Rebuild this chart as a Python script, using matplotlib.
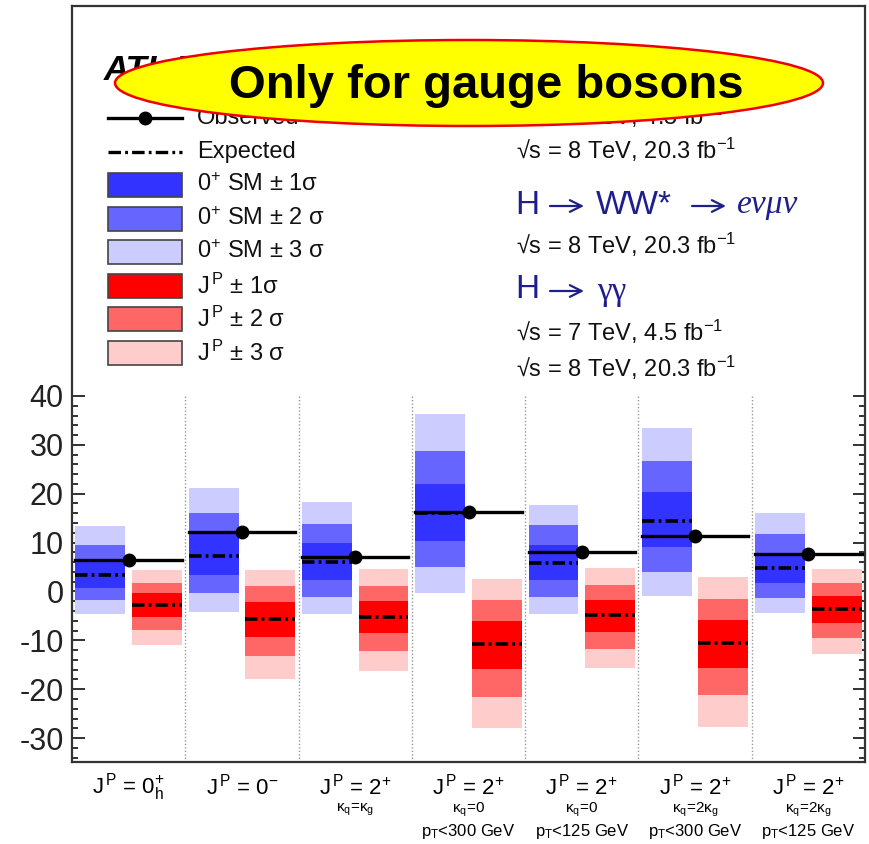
import numpy as np
import matplotlib
matplotlib.use("Agg")
import matplotlib.pyplot as plt
from matplotlib.patches import Ellipse, Rectangle, FancyArrowPatch
from matplotlib.lines import Line2D

plt.rcParams['font.family'] = ['Liberation Sans', 'DejaVu Sans']
plt.rcParams['mathtext.fontset'] = 'custom'
plt.rcParams['mathtext.rm'] = 'Liberation Sans'
plt.rcParams['mathtext.it'] = 'Liberation Sans:italic'
plt.rcParams['mathtext.bf'] = 'Liberation Sans:bold'
plt.rcParams['lines.scale_dashes'] = False

JP = r"J$^{\,\mathrm{P}}$"

# hypotheses tested against 0+ SM
main_labels = [JP + r" = 0$^{+}_{\mathrm{h}}$", JP + r" = 0$^{-}$", JP + r" = 2$^{+}$",
               JP + r" = 2$^{+}$", JP + r" = 2$^{+}$", JP + r" = 2$^{+}$",
               JP + r" = 2$^{+}$"]
sub_labels1 = ["", "", r"κ$_{\mathrm{q}}$=κ$_{\mathrm{g}}$", r"κ$_{\mathrm{q}}$=0",
               r"κ$_{\mathrm{q}}$=0", r"κ$_{\mathrm{q}}$=2κ$_{\mathrm{g}}$",
               r"κ$_{\mathrm{q}}$=2κ$_{\mathrm{g}}$"]
sub_labels2 = ["", "", "", r"p$_{\mathrm{T}}$<300 GeV", r"p$_{\mathrm{T}}$<125 GeV",
               r"p$_{\mathrm{T}}$<300 GeV", r"p$_{\mathrm{T}}$<125 GeV"]

observed = [6.4, 12.2, 7.0, 16.2, 8.0, 11.4, 7.7]

# 0+ SM expectation and bands
sm_exp = [3.4, 7.35, 6.0, 16.1, 5.9, 14.4, 4.8]
sm_1s_lo = [0.7, 3.3, 2.3, 10.4, 2.3, 9.0, 1.7]
sm_1s_hi = [6.5, 11.8, 9.9, 22.0, 9.5, 20.3, 7.9]
sm_2s_lo = [-1.8, -0.3, -1.1, 5.0, -1.1, 3.9, -1.4]
sm_2s_hi = [9.5, 16.0, 13.9, 28.8, 13.6, 26.7, 11.8]
sm_3s_lo = [-4.6, -4.2, -4.6, -0.3, -4.6, -1.0, -4.4]
sm_3s_hi = [13.3, 21.1, 18.4, 36.4, 17.7, 33.5, 16.1]

# alternative J^P expectation and bands
alt_exp = [-2.7, -5.6, -5.2, -10.7, -4.9, -10.6, -3.5]
alt_1s_lo = [-5.2, -9.3, -8.5, -15.8, -8.2, -15.7, -6.4]
alt_1s_hi = [-0.4, -2.2, -1.9, -6.1, -1.8, -5.9, -0.95]
alt_2s_lo = [-7.9, -13.3, -12.2, -21.6, -11.8, -21.2, -9.5]
alt_2s_hi = [1.8, 1.1, 1.1, -1.8, 1.4, -1.6, 1.8]
alt_3s_lo = [-11.0, -18.0, -16.2, -28.0, -15.6, -27.7, -12.9]
alt_3s_hi = [4.3, 4.4, 4.5, 2.6, 4.8, 3.0, 4.6]

blue = ['#3333ff', '#6666ff', '#ccccff']
red = ['#ff0000', '#ff6666', '#ffcccc']

W, H = 869, 844
fig = plt.figure(figsize=(W / 100, H / 100), dpi=100)


def px(x, y):
    return x / W, 1 - y / H


ax = fig.add_axes([72 / W, (H - 762) / H, (865 - 72) / W, (762 - 6) / H])
ax.set_xlim(0, 7)
ax.set_ylim(-34.9, 119.8)

n = len(observed)
x0 = np.arange(n)
bw = 0.44
dash_style = (0, (9, 3, 2, 3))

sm_bands = [(sm_3s_lo, sm_3s_hi), (sm_2s_lo, sm_2s_hi), (sm_1s_lo, sm_1s_hi)]
alt_bands = [(alt_3s_lo, alt_3s_hi), (alt_2s_lo, alt_2s_hi), (alt_1s_lo, alt_1s_hi)]
for i, ((slo, shi), (alo, ahi)) in enumerate(zip(sm_bands, alt_bands)):
    slo, shi, alo, ahi = map(np.array, (slo, shi, alo, ahi))
    ax.bar(x0 + 0.03, shi - slo, bottom=slo, width=bw, align='edge',
           color=blue[2 - i], linewidth=0, zorder=2)
    ax.bar(x0 + 0.53, ahi - alo, bottom=alo, width=bw, align='edge',
           color=red[2 - i], linewidth=0, zorder=2)

for i in range(n):
    ax.plot([i + 0.03, i + 0.47], [sm_exp[i]] * 2, color='black', lw=2.6,
            linestyle=dash_style, zorder=3)
    ax.plot([i + 0.53, i + 0.97], [alt_exp[i]] * 2, color='black', lw=2.6,
            linestyle=dash_style, zorder=3)
    ax.plot([i + 0.03, i + 0.97], [observed[i]] * 2, color='black', lw=2.4, zorder=4)
ax.plot(x0 + 0.5, observed, 'o', color='black', ms=9, zorder=5)

# category separators
for s in range(1, n):
    ax.plot([s, s], [-34.9, 40], color='#999999', lw=1, linestyle=(0, (1, 1.5)), zorder=1)

ax.set_xticks([])
ax.set_yticks(np.arange(-30, 41, 10))
ax.set_yticks(np.arange(-34, 41, 2), minor=True)
ax.tick_params(axis='y', which='both', direction='in', left=True, right=True,
               width=1.3, colors='#222222', labelsize=22, pad=6)
ax.tick_params(axis='y', which='major', length=9)
ax.tick_params(axis='y', which='minor', length=4.5)
ax.set_yticklabels([str(v) for v in range(-30, 41, 10)])
for sp in ax.spines.values():
    sp.set_linewidth(1.6)
    sp.set_color('#333333')

# category labels under the axis
xt = ax.get_xaxis_transform()
for i in range(n):
    ax.text(i + 0.5, -0.033, main_labels[i], transform=xt, ha='center', va='center',
            fontsize=16)
    if sub_labels1[i]:
        ax.text(i + 0.5, -0.063, sub_labels1[i], transform=xt, ha='center', va='center',
                fontsize=11)
    if sub_labels2[i]:
        ax.text(i + 0.5, -0.092, sub_labels2[i], transform=xt, ha='center', va='center',
                fontsize=12)

# legend, drawn by hand
leg_y = [118, 152, 185, 219, 252, 286, 319, 353]
fig.add_artist(Line2D([108 / W, 182 / W], [px(0, leg_y[0])[1]] * 2, color='black', lw=2.4))
fig.add_artist(Line2D([145 / W], [px(0, leg_y[0])[1]], marker='o', color='black', ms=9))
fig.add_artist(Line2D([108 / W, 182 / W], [px(0, leg_y[1])[1]] * 2, color='black', lw=2.4,
                      linestyle=(0, (9, 3, 2, 3))))
legend_text = ["Observed", "Expected",
               r"0$^{+}$ SM $\pm$ 1σ", r"0$^{+}$ SM $\pm$ 2 σ", r"0$^{+}$ SM $\pm$ 3 σ",
               JP + r" $\pm$ 1σ", JP + r" $\pm$ 2 σ", JP + r" $\pm$ 3 σ"]
swatches = blue + red
for k, yy in enumerate(leg_y[2:]):
    fig.add_artist(Rectangle(px(108, yy + 12), 74 / W, 24 / H, transform=fig.transFigure,
                             facecolor=swatches[k], edgecolor='#444444', lw=1.2))
for txt, yy in zip(legend_text, leg_y):
    fig.text(*px(197, yy), txt, ha='left', va='center', fontsize=17, color='#111111')

# experiment label and channels
fig.text(*px(104, 70), "ATLAS", ha='left', va='center', fontsize=25,
         fontweight='bold', style='italic')
navy = '#1f1f8c'
right_lines = [(116, r"√s = 7 TeV, 4.5 fb$^{-1}$"),
               (150, r"√s = 8 TeV, 20.3 fb$^{-1}$"),
               (245, r"√s = 8 TeV, 20.3 fb$^{-1}$"),
               (332, r"√s = 7 TeV, 4.5 fb$^{-1}$"),
               (368, r"√s = 8 TeV, 20.3 fb$^{-1}$")]
for yy, txt in right_lines:
    fig.text(*px(516, yy), txt, ha='left', va='center', fontsize=17, color='#111111')


def arrow(x1, x2, y):
    fig.add_artist(FancyArrowPatch(px(x1, y), px(x2, y), transform=fig.transFigure,
                                   arrowstyle='->,head_length=0.6,head_width=0.3',
                                   mutation_scale=14, lw=1.6, color=navy,
                                   shrinkA=0, shrinkB=0))


# channel titles
title_kw = dict(ha='left', va='center', fontsize=24, color=navy)
fig.text(*px(515, 205), "H", **title_kw)
arrow(550, 584, 206)
fig.text(*px(596, 205), "WW*", **title_kw)
arrow(692, 726, 206)
fig.text(*px(737, 205), "eνμν", ha='left', va='center', fontsize=24, color=navy,
         family='Liberation Serif', style='italic')
fig.text(*px(515, 290), "H", **title_kw)
arrow(550, 584, 291)
fig.text(*px(597, 292), "γγ", ha='left', va='center', fontsize=24, color=navy,
         family='Liberation Serif')

# banner
fig.add_artist(Ellipse(px(469, 83), 708 / W, 86 / H, transform=fig.transFigure,
                       facecolor='#ffff00', edgecolor='#ee0000', lw=1.8, zorder=10))
fig.text(*px(486, 86), "Only for gauge bosons", ha='center', va='center', fontsize=34,
         fontweight='bold', zorder=11)

fig.savefig("out.png", dpi=100)
